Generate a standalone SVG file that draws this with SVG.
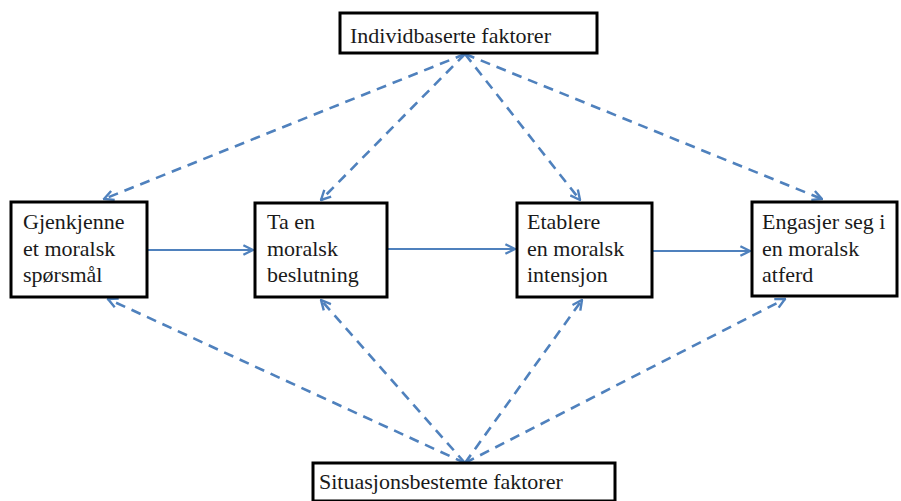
<svg xmlns="http://www.w3.org/2000/svg" width="901" height="501" viewBox="0 0 901 501">
<defs>
<style>
.box{fill:#fff;stroke:#000;stroke-width:3}
.t{font-family:'Liberation Serif','Times New Roman','Noto Serif','DejaVu Serif',serif;font-size:22px;fill:#1a1a1a}
.solid{stroke:#4f81bd;stroke-width:2;fill:none}
.dash{stroke:#4f81bd;stroke-width:2.6;fill:none;stroke-dasharray:10 7}
</style>
<marker id="ahd" viewBox="0 0 10 10" refX="9" refY="5" markerWidth="12" markerHeight="12" orient="auto" markerUnits="userSpaceOnUse">
<path d="M1,1 L9,5 L1,9" fill="none" stroke="#4f81bd" stroke-width="2"/>
</marker>
</defs>
<rect width="901" height="501" fill="#fff"/>
<g id="connectors">
<line class="solid" x1="148" y1="250" x2="253" y2="250" marker-end="url(#ahd)"/>
<line class="solid" x1="388" y1="249" x2="515" y2="249" marker-end="url(#ahd)"/>
<line class="solid" x1="653" y1="251" x2="750" y2="251" marker-end="url(#ahd)"/>
<line class="dash" x1="465" y1="54" x2="104" y2="199" marker-end="url(#ahd)"/>
<line class="dash" x1="465" y1="54" x2="321" y2="200" marker-end="url(#ahd)"/>
<line class="dash" x1="465" y1="54" x2="580" y2="200" marker-end="url(#ahd)"/>
<line class="dash" x1="465" y1="54" x2="822" y2="199" marker-end="url(#ahd)"/>
<line class="dash" x1="465" y1="463" x2="108" y2="299" marker-end="url(#ahd)"/>
<line class="dash" x1="465" y1="463" x2="321" y2="300" marker-end="url(#ahd)"/>
<line class="dash" x1="465" y1="463" x2="582" y2="300" marker-end="url(#ahd)"/>
<line class="dash" x1="465" y1="463" x2="785" y2="299" marker-end="url(#ahd)"/>
</g>
<g id="top">
<rect class="box" x="340" y="13" width="257" height="40"/>
<text class="t" x="350" y="43">Individbaserte faktorer</text>
</g>
<g id="n1">
<rect class="box" x="11" y="202" width="136" height="95"/>
<text class="t" x="23" y="229">Gjenkjenne</text>
<text class="t" x="23" y="256">et moralsk</text>
<text class="t" x="23" y="282">spørsmål</text>
</g>
<g id="n2">
<rect class="box" x="255" y="203" width="132" height="94"/>
<text class="t" x="267" y="229">Ta en</text>
<text class="t" x="267" y="256">moralsk</text>
<text class="t" x="267" y="282">beslutning</text>
</g>
<g id="n3">
<rect class="box" x="517" y="203" width="135" height="94"/>
<text class="t" x="527" y="229">Etablere</text>
<text class="t" x="527" y="256">en moralsk</text>
<text class="t" x="527" y="282">intensjon</text>
</g>
<g id="n4">
<rect class="box" x="752" y="202" width="145" height="94"/>
<text class="t" x="762" y="229">Engasjer seg i</text>
<text class="t" x="762" y="256">en moralsk</text>
<text class="t" x="762" y="282">atferd</text>
</g>
<g id="bottom">
<rect class="box" x="313" y="463" width="302" height="38"/>
<text class="t" x="319" y="489">Situasjonsbestemte faktorer</text>
</g>
</svg>
